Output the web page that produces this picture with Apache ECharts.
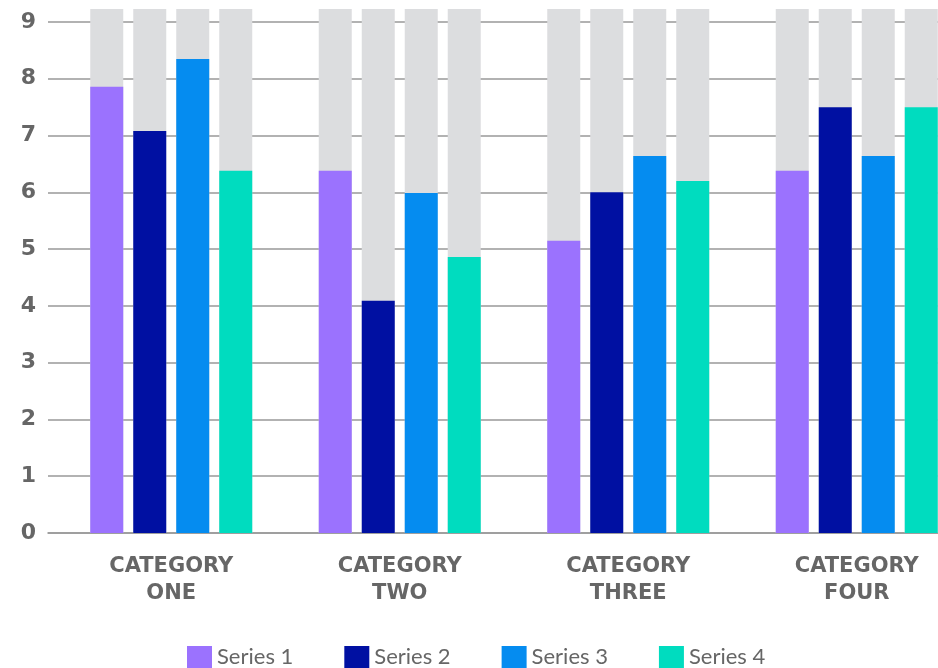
<!DOCTYPE html>
<html>
<head>
<meta charset="utf-8">
<style>html,body{margin:0;padding:0;background:#fff;}#c{width:938px;height:668px;}</style>
<script src="https://cdn.jsdelivr.net/npm/echarts@6/dist/echarts.min.js"></script>
</head>
<body>
<div id="c"></div>
<script>
var categories = ['CATEGORY\nONE', 'CATEGORY\nTWO', 'CATEGORY\nTHREE', 'CATEGORY\nFOUR'];
var seriesNames = ['Series 1', 'Series 2', 'Series 3', 'Series 4'];
var series1 = [7.86, 6.38, 5.15, 6.38];
var series2 = [7.08, 4.09, 6.0, 7.5];
var series3 = [8.35, 5.99, 6.64, 6.64];
var series4 = [6.38, 4.86, 6.2, 7.5];
var yTicks = [0, 1, 2, 3, 4, 5, 6, 7, 8, 9];
var backgroundTop = 9.23;

var colors = ['#9B72FE', '#0010A2', '#058CF0', '#00DCBF'];
var allData = [series1, series2, series3, series4];

var chart = echarts.init(document.getElementById('c'), null, {renderer: 'canvas'});
var barSeries = allData.map(function (d, i) {
  return {
    name: seriesNames[i],
    type: 'bar',
    xAxisIndex: 1,
    yAxisIndex: 1,
    data: d,
    barWidth: 33,
    barGap: '30.3%',
    itemStyle: {color: colors[i]},
    showBackground: true,
    backgroundStyle: {color: '#DCDDDF'},
    z: 3
  };
});

chart.setOption({
  animation: false,
  backgroundColor: '#ffffff',
  color: colors,
  legend: {
    data: seriesNames,
    left: 182,
    top: 641,
    itemWidth: 25,
    itemHeight: 22,
    itemGap: 51,
    icon: 'rect',
    textStyle: {fontFamily: 'Lato', fontSize: 22, color: '#666666'}
  },
  grid: [
    {left: 48, right: 0, top: 22, bottom: 135, outerBoundsMode: 'none', containLabel: false},
    {left: 57, width: 914, top: 9, bottom: 135, outerBoundsMode: 'none', containLabel: false}
  ],
  xAxis: [
    {
      type: 'category', gridIndex: 0, data: categories, show: true,
      axisLine: {show: true, lineStyle: {color: '#999999', width: 1.6}},
      axisTick: {show: false}, axisLabel: {show: false}, splitLine: {show: false}
    },
    {
      type: 'category', gridIndex: 1, data: categories,
      axisLine: {show: false}, axisTick: {show: false},
      axisLabel: {
        margin: 20, fontFamily: 'DejaVu Sans', fontWeight: 'bold', fontSize: 21,
        lineHeight: 27, color: '#666666'
      }
    }
  ],
  yAxis: [
    {
      type: 'value', gridIndex: 0, min: 0, max: 9, interval: 1,
      axisLine: {show: false}, axisTick: {show: false},
      axisLabel: {
        margin: 12, fontFamily: 'DejaVu Sans', fontWeight: 'bold', fontSize: 22, color: '#666666',
        formatter: function (v) { return yTicks.indexOf(v) >= 0 ? String(v) : ''; }
      },
      splitLine: {show: true, lineStyle: {color: '#999999', width: 1.6}}
    },
    {
      type: 'value', gridIndex: 1, min: 0, max: backgroundTop, show: false,
      splitLine: {show: false}
    }
  ],
  series: barSeries
});
</script>
</body>
</html>
